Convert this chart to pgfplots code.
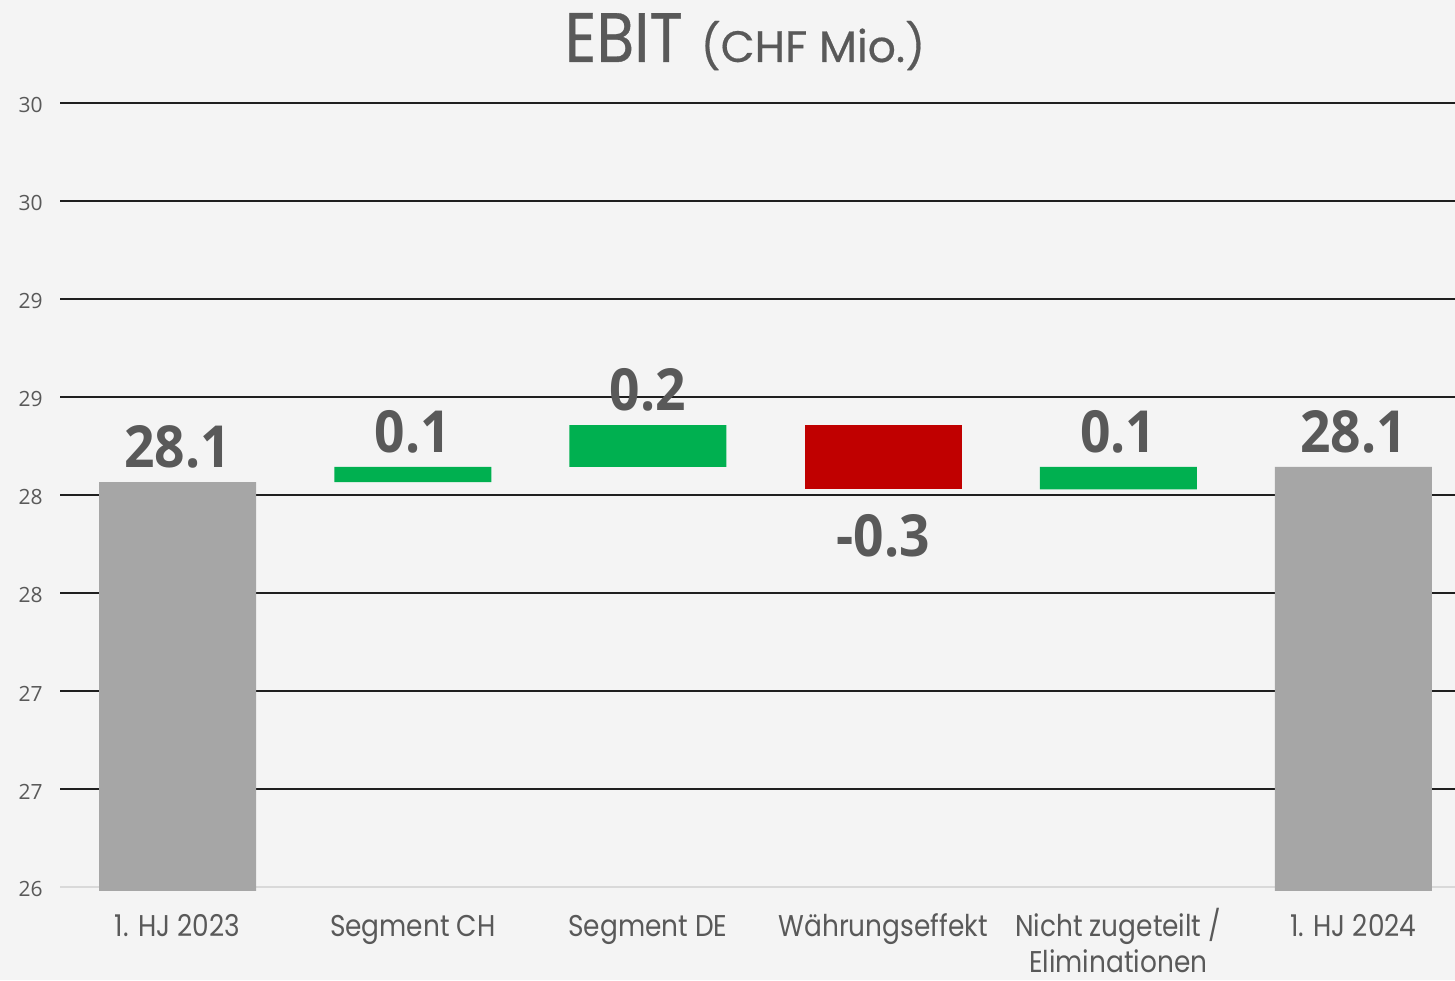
\documentclass[border=0pt]{standalone}
\usepackage{fontspec}
\setmainfont{Open Sans}
\newfontfamily\catfont[FakeStretch=0.88]{Poppins}
\newfontfamily\titAfont[FakeStretch=0.88,FakeBold=0.5]{Poppins}
\newfontfamily\titfont[FakeBold=0.4]{Poppins}
\newfontfamily\labfont[FakeStretch=0.92]{Open Sans}
\usepackage{pgfplots}
\pgfplotsset{compat=1.18}
\usepackage{pgfplotstable}
\definecolor{bg}{HTML}{F4F4F4}
\definecolor{txt}{HTML}{595959}
\definecolor{barg}{HTML}{A6A6A6}
\definecolor{barp}{HTML}{00B050}
\definecolor{barn}{HTML}{C00000}
\definecolor{axg}{HTML}{D9D9D9}
\pgfplotstableread{
x base eps tot up down hl ll
0 25.98 0.0001 2.086 0 0 28.1 {}
1 28.066 0.0001 0 0.077 0 0.1 {}
2 28.143 0.0001 0 0.214 0 0.2 {}
3 28.029 0.0001 0 0 0.328 {} -0.3
4 28.029 0.0001 0 0.115 0 0.1 {}
5 25.98 0.0001 2.163 0 0 28.1 {}
}\ebit
\begin{document}
\begin{tikzpicture}
\fill[bg] (0,0) rectangle (727.5pt,490pt);
\useasboundingbox (0,0) rectangle (727.5pt,490pt);
\begin{axis}[
  at={(30pt,46.5pt)},
  scale only axis, width=697.5pt, height=392pt,
  ybar stacked, bar width=78.5pt,
  xmin=-0.5, xmax=5.432, ymin=26, ymax=30,
  clip=false,
  axis line style={draw=none},
  major tick length=0pt,
  xtick={0,1,2,3,4,5},
  xticklabels={1. HJ 2023,Segment CH,Segment DE,Währungseffekt,{\begin{tabular}[t]{@{}c@{}}Nicht zugeteilt /\\Eliminationen\end{tabular}},1. HJ 2024},
  ytick={26.5,27,27.5,28,28.5,29,29.5,30},
  yticklabels={27,27,28,28,29,29,30,30},
  extra y ticks={26}, extra y tick labels={26},
  extra y tick style={grid style={axg,line width=1pt}},
  ymajorgrids,
  grid style={black!88, line width=1pt},
  yticklabel style={font=\fontsize{10.5}{12}\selectfont, text=txt, anchor=east, inner sep=0pt, xshift=-8.5pt, yshift=-1.2pt},
  xticklabel style={font=\catfont\fontsize{15}{18}\selectfont, text=txt, anchor=base, inner sep=0pt, yshift=-24.5pt},
]
\addplot[fill=none, draw=none] table[x=x, y=base] {\ebit};
\addplot[fill=none, draw=none, nodes near coords, point meta=explicit symbolic,
  every node near coord/.append style={font=\labfont\bfseries\fontsize{29}{30}\selectfont, text=txt, anchor=base, yshift=-33.5pt}]
  table[x=x, y=eps, meta=ll] {\ebit};
\addplot[fill=barg, draw=none] table[x=x, y=tot] {\ebit};
\addplot[fill=barp, draw=none] table[x=x, y=up] {\ebit};
\addplot[fill=barn, draw=none] table[x=x, y=down] {\ebit};
\addplot[fill=none, draw=none, nodes near coords, point meta=explicit symbolic,
  every node near coord/.append style={font=\labfont\bfseries\fontsize{29}{30}\selectfont, text=txt, anchor=base, yshift=7.25pt}]
  table[x=x, y=eps, meta=hl] {\ebit};
\draw[axg, line width=1pt] (rel axis cs:0,0) -- (rel axis cs:1,0);
\end{axis}
\node[anchor=base, text=txt, inner sep=0pt] at (372.5pt,459pt)
  {{\titAfont\fontsize{35}{40}\selectfont EBIT}\hspace{9pt}{\titfont\fontsize{22}{26}\selectfont (CHF Mio.)}};
\end{tikzpicture}
\end{document}
